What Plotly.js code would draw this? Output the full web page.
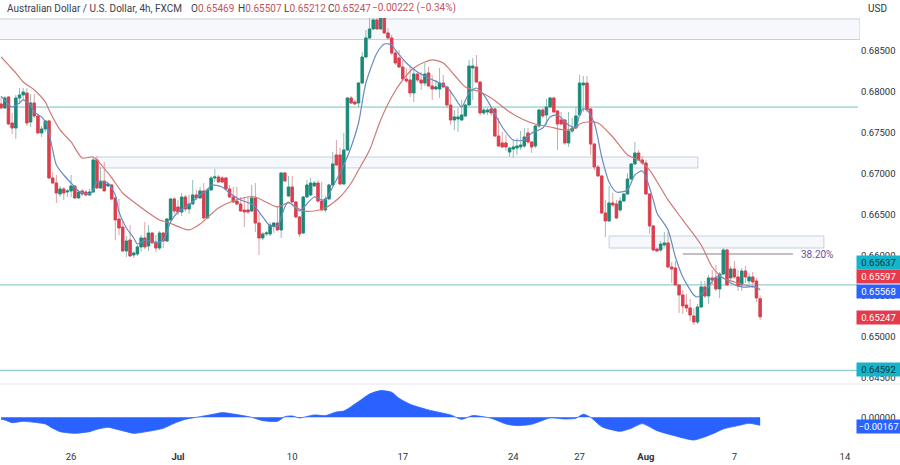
<!DOCTYPE html>
<html><head><meta charset="utf-8">
<script src="https://cdn.plot.ly/plotly-3.0.1.min.js"></script>
<style>html,body{margin:0;padding:0;background:#fff}#c{width:900px;height:465px}</style>
</head><body><div id="c"></div>
<script>
// Prices are in units of 0.00001
const open = [67850,67801,67935,67617,67556,67923,67960,67984,67629,67862,
67703,67495,67544,67642,66945,66883,66749,66810,66773,66786,
66847,66700,66786,66773,66737,66773,67165,66822,66908,66847,
66859,66700,66443,66345,66052,66186,66003,66015,66101,66211,
66113,66272,66162,66088,66272,66174,66431,66688,66590,66529,
66712,66565,66627,66737,66700,66786,66455,66798,66945,66957,
66945,66945,66810,66712,66663,66627,66553,66553,66541,66700,
66394,66211,66260,66260,66358,66394,66309,67006,66724,66835,
66651,66468,66272,66712,66737,66847,66883,66663,66553,66688,
66859,67226,67226,66871,67287,67923,67874,67862,68106,68424,
68657,68767,68877,68767,68901,68718,68657,68473,68412,68302,
68155,68143,67984,68216,68143,68106,68229,68070,68033,68033,
68106,68058,67837,67654,67666,67654,67703,67837,68290,68302,
68118,67740,67752,67789,67789,67458,67373,67373,67262,67299,
67311,67324,67336,67495,67385,67336,67581,67776,67715,67813,
67923,67764,67654,67654,67373,67519,67556,67715,68082,68106,
67789,67360,67079,66969,66517,66419,66639,66627,66553,66663,
66749,66932,67116,67250,67165,67128,66749,66358,66076,66064,
66125,66150,65856,65844,65636,65514,65391,65355,65257,65183,
65367,65612,65501,65722,65722,65587,65770,66064,65722,65832,
65734,65636,65807,65685,65734,65685,65469];
const high = [67935,67947,67947,67740,67960,68045,68045,68045,67972,67972,
67727,67581,67654,67654,67018,66981,66847,66835,66810,66981,
66847,66798,66810,66798,66810,67201,67214,67079,67140,66883,
66871,66712,66688,66431,66235,66370,66052,66125,66247,66406,
66370,66284,66247,66296,66284,66455,66700,66712,66676,66761,
66737,66737,66920,66798,66835,66883,66822,66969,67055,66981,
66969,66957,66859,66835,66835,66712,66712,66700,66859,66883,
66504,66284,66296,66406,66406,66590,67018,67018,66969,66969,
66663,66480,66724,66920,66945,66908,66920,66896,66724,66871,
67262,67409,67311,67495,67935,67947,67899,68118,68486,68755,
68914,68914,68901,68938,68914,68779,68694,68510,68510,68388,
68290,68314,68290,68229,68241,68351,68302,68204,68143,68290,
68204,68070,68021,67776,67801,67899,67850,68388,68412,68449,
68131,67801,67801,67801,67801,67678,67507,67471,67324,67409,
67434,67519,67556,67556,67397,67593,67789,67801,67911,67935,
67935,67776,67752,67666,67752,67678,67813,68204,68192,68192,
67801,67373,67104,66981,66676,66847,66761,66676,66712,66761,
67006,67128,67385,67287,67214,67165,66761,66370,66088,66174,
66284,66284,65917,65929,65648,65575,65526,65465,65355,65404,
65685,65685,65758,65819,65881,65795,66088,66076,65868,65929,
65819,65844,65868,65783,65795,65722,65507];
const low = [67789,67789,67593,67483,67422,67850,67899,67581,67568,67678,
67483,67446,67507,66932,66871,66639,66712,66676,66712,66712,
66688,66688,66724,66724,66724,66761,66810,66810,66786,66835,
66676,66186,66247,66040,65978,65978,65966,65991,66040,66076,
66052,66137,66040,66064,66088,66162,66419,66504,66492,66480,
66529,66504,66614,66676,66688,66443,66443,66786,66896,66883,
66883,66798,66700,66639,66614,66529,66345,66504,66529,66284,
66003,66186,66235,66235,66272,66296,66211,66896,66712,66639,
66455,66223,66260,66700,66724,66835,66639,66541,66529,66676,
66847,67091,66859,66859,67275,67850,67837,67801,68094,68412,
68645,68755,68755,68755,68706,68632,68449,68327,68290,68131,
68106,67935,67874,68118,68021,68070,68058,67899,68021,67923,
68045,67801,67593,67532,67507,67642,67691,67825,67899,68106,
67703,67715,67715,67703,67446,67324,67311,67275,67201,67189,
67226,67287,67311,67360,67250,67311,67556,67678,67593,67801,
67740,67287,67593,67348,67324,67495,67544,67703,67752,67752,
67226,67042,66957,66504,66223,66406,66590,66443,66529,66651,
66737,66920,67104,67152,67104,66737,66260,66052,66040,66040,
66101,65844,65660,65624,65294,65281,65306,65196,65147,65159,
65355,65477,65404,65636,65563,65477,65758,65624,65697,65709,
65563,65563,65660,65648,65599,65428,65212];
const close = [67801,67923,67605,67556,67923,67960,67996,67617,67862,67703,
67495,67544,67642,66945,66883,66761,66810,66761,66786,66847,
66700,66773,66749,66737,66773,67165,66822,66908,66786,66871,
66688,66431,66333,66052,66174,65991,66027,66101,66211,66101,
66272,66150,66088,66272,66174,66443,66688,66541,66529,66712,
66565,66627,66737,66700,66786,66455,66798,66945,66957,66896,
66896,66810,66712,66651,66627,66541,66529,66529,66700,66394,
66211,66260,66272,66370,66394,66309,67006,66908,66835,66651,
66468,66260,66712,66859,66883,66883,66663,66553,66688,66859,
67116,67104,66871,67287,67923,67862,67850,68106,68424,68657,
68767,68877,68767,68901,68718,68657,68473,68351,68302,68155,
68131,67984,68216,68143,68106,68216,68070,68033,68058,68106,
68058,67837,67654,67691,67691,67715,67837,68314,68314,68118,
67740,67776,67776,67740,67458,67336,67324,67324,67311,67324,
67336,67348,67446,67385,67324,67581,67776,67703,67813,67923,
67752,67605,67605,67373,67519,67556,67703,68106,68106,67776,
67360,67079,66969,66517,66419,66639,66614,66455,66663,66749,
66932,67116,67250,67165,67128,66749,66358,66064,66052,66137,
66150,65856,65832,65636,65514,65379,65355,65269,65183,65367,
65612,65501,65722,65697,65587,65770,66064,65636,65832,65734,
65624,65807,65734,65734,65673,65477,65247];

// Fast and slow moving averages read at candle positions
const fastIdx = [0,3,5,6,8,9,11,12,13,14,15,17,19,20,21,24,25,26,28,29,31,32,34,36,37,39,42,44,46,48,51,54,56,57,60,62,65,68,69,71,73,75,77,78,81,82,85,87,88,90,93,95,97,99,102,104,106,107,110,113,116,119,121,123,125,127,129,131,133,136,139,142,144,147,149,151,154,156,157,158,159,161,163,165,167,170,172,174,175,177,178,181,183,185,188,189,192,194,196,198,201,205,206];
const fastVal = [67947,67813,67862,67899,67837,67752,67691,67629,67495,67287,67104,66981,66883,66835,66786,66749,66798,66896,66896,66883,66737,66529,66333,66211,66137,66186,66150,66186,66406,66529,66614,66737,66798,66859,66835,66761,66676,66627,66590,66468,66358,66358,66590,66651,66541,66578,66712,66676,66676,66835,67104,67324,67617,68106,68473,68583,68571,68510,68351,68241,68168,68106,68058,67935,67813,67984,68045,67960,67813,67568,67409,67409,67495,67556,67691,67715,67593,67568,67715,67789,67776,67617,67201,66896,66773,66798,66981,67030,66957,66676,66517,66309,65978,65734,65514,65489,65612,65734,65722,65660,65612,65612,65575];
const slowIdx = [0,2,4,6,9,12,13,16,19,22,25,29,31,33,36,43,45,49,51,54,59,63,67,69,75,78,82,85,88,92,95,97,100,103,106,109,112,115,117,120,123,126,130,133,138,142,145,149,153,156,157,159,162,166,170,173,176,181,185,190,193,196,199,203,205];
const slowVal = [68424,68327,68229,68118,68021,67874,67776,67532,67385,67189,67201,67006,66883,66761,66651,66431,66406,66333,66309,66382,66578,66663,66712,66712,66590,66639,66541,66541,66578,66712,66883,67042,67287,67654,67935,68143,68290,68363,68388,68351,68204,68058,67996,67923,67752,67654,67605,67568,67532,67556,67605,67629,67617,67446,67226,67165,67042,66676,66431,66125,65856,65722,65673,65624,65612];

// Lower pane oscillator
const oscIdx = [0,1,3,6,9,12,14,16,20,24,26,29,31,34,36,40,44,47,50,54,58,60,64,68,71,75,77,79,81,85,88,91,93,95,97,100,103,106,108,111,116,122,125,128,133,137,140,144,149,153,156,158,160,163,168,171,174,178,183,188,193,196,200,203,206];
const oscVal = [-0.00042,-0.00056,-0.00112,-0.00084,-0.00105,-0.00139,-0.0023,-0.003,-0.00335,-0.003,-0.00251,-0.00209,-0.00244,-0.003,-0.00335,-0.00293,-0.0023,-0.00125,-0.00042,0.00014,0.0007,0.00098,0.00056,0,-0.0007,-0.00084,0.00014,0.00028,-0.00014,0.00049,0.00035,0.00112,0.00132,0.00223,0.00328,0.00488,0.00558,0.00523,0.00397,0.00272,0.00153,0.00049,-0.00042,0.00035,-0.00021,-0.00139,-0.00174,-0.00146,-0.00014,-0.00035,-0.00021,0.00063,0,-0.00195,-0.00293,-0.0023,-0.00132,-0.00279,-0.0039,-0.00474,-0.00349,-0.00244,-0.00174,-0.00125,-0.00167];

const priceTicks = [0.685,0.68,0.675,0.67,0.665,0.66,0.655,0.65,0.645];
const xTickIdx = [19,48,79,109,139,157,175,199,229];
const xTickText = ['26','<b>Jul</b>','10','17','24','27','<b>Aug</b>','7','14'];
const levels = [0.67812,0.65637,0.64592];
const zones = [[-1,233.1,0.68889,0.68638],[25.75,189.1,0.67201,0.67067],[165,223.3,0.66235,0.66088]];
const fib = {i0:185,i1:214.9,price:0.66015,label:'38.20%'};
const headerName = 'Australian Dollar / U.S. Dollar, 4h, FXCM';
const ohlcLabels = [['O','0.65469',189],['H','0.65507',236],['L','0.65212',282],['C','0.65247',326]];
const changeText = '−0.00222 (−0.34%)';
const badges = [['0.65637',262,'#14b5cb','#13333a'],['0.65597',276,'#e63a4c','#fff'],['0.65568',291,'#2962ff','#fff'],['0.65247',317,'#e63a4c','#fff'],['0.64592',369,'#14b5cb','#13333a'],['−0.00167',426,'#2962ff','#fff']];

const P = a => a.map(v => v/1e5);
const idx = open.map((_,i)=>i);
const GREEN='#1a8a78', RED='#dc3e4e', GW='#8fc0b6', RW='#dba3a8', FONT='Roboto, "Open Sans", sans-serif';
const px = x => x/900, py = y => 1-y/465;

const traces = [
 {type:'candlestick',x:idx,open:P(open),high:P(high),low:P(low),close:P(close),yaxis:'y',whiskerwidth:0,
  increasing:{line:{color:GW,width:1},fillcolor:GREEN},decreasing:{line:{color:RW,width:1},fillcolor:RED},hoverinfo:'skip'},
 {type:'candlestick',x:idx,open:P(open),close:P(close),
  high:P(open.map((o,i)=>Math.max(o,close[i]))),low:P(open.map((o,i)=>Math.min(o,close[i]))),yaxis:'y',whiskerwidth:0,
  increasing:{line:{color:GREEN,width:0.8},fillcolor:GREEN},decreasing:{line:{color:RED,width:0.8},fillcolor:RED},hoverinfo:'skip'},
 {type:'scatter',mode:'lines',x:slowIdx,y:slowVal.map(v=>v/1e5),yaxis:'y',line:{color:'#cc7a78',width:1.2,shape:'spline',smoothing:0.7},hoverinfo:'skip'},
 {type:'scatter',mode:'lines',x:fastIdx,y:fastVal.map(v=>v/1e5),yaxis:'y',line:{color:'#6a8bc2',width:1.2,shape:'spline',smoothing:0.7},hoverinfo:'skip'},
 {type:'scatter',mode:'lines',x:oscIdx,y:oscVal,yaxis:'y2',fill:'tozeroy',fillcolor:'#2962ff',line:{color:'#2962ff',width:0.8,shape:'spline',smoothing:0.6},hoverinfo:'skip'}
];

const shapes = [];
zones.forEach(z=>shapes.push({type:'rect',layer:'below',xref:'x',yref:'y',x0:z[0],x1:z[1],y0:z[2],y1:z[3],fillcolor:'#f6f8fc',line:{color:'#c3d0e0',width:1}}));
levels.forEach(l=>shapes.push({type:'line',layer:'below',xref:'paper',yref:'y',x0:0,x1:px(858),y0:l,y1:l,line:{color:'#74c2c2',width:1}}));
shapes.push({type:'line',layer:'below',xref:'x',yref:'y',x0:fib.i0,x1:fib.i1,y0:fib.price,y1:fib.price,line:{color:'#aea8b0',width:1.4}});
shapes.push({type:'line',layer:'below',xref:'paper',yref:'paper',x0:0,x1:1,y0:py(384),y1:py(384),line:{color:'#e3e6ec',width:1}});

const ann = [];
const label=(t,x,y,c,extra)=>ann.push(Object.assign({xref:'paper',yref:'paper',x:px(x),y:py(y),text:t,showarrow:false,xanchor:'left',yanchor:'middle',font:{family:FONT,size:10,color:c}},extra||{}));
label(headerName,5,8,'#3a3e4a');
ohlcLabels.forEach(o=>label(o[0]+'<span style="color:#c4525e">'+o[1]+'</span>',o[2],8,'#3a3e4a'));
label(changeText,370,8,'#c4525e');
label('USD',866,8,'#2e3240');
label(fib.label,799,254,'#6b4f9c');
badges.forEach(b=>ann.push({xref:'paper',yref:'paper',x:px(856),y:py(b[1]),text:b[0],showarrow:false,xanchor:'left',yanchor:'middle',
  width:43,height:13,bgcolor:b[2],borderpad:0,align:'center',font:{family:FONT,size:9.5,color:b[3]}}));

const layout = {
 width:900,height:465,margin:{l:0,r:0,t:0,b:0},paper_bgcolor:'#fff',plot_bgcolor:'#fff',showlegend:false,boxgap:0.06,
 xaxis:{domain:[0,px(860)],range:[-0.3,233.1],anchor:'y2',tickmode:'array',tickvals:xTickIdx,ticktext:xTickText,showgrid:false,zeroline:false,showline:false,ticks:'',ticklen:0,ticklabelstandoff:4,
        tickfont:{family:FONT,size:9.5,color:'#2e3240'},rangeslider:{visible:false},tickangle:0},
 yaxis:{domain:[py(384),py(18)],range:[0.64425,0.68901],side:'right',anchor:'x',tickmode:'array',tickvals:priceTicks,tickformat:'.5f',showgrid:false,zeroline:false,showline:false,ticks:'',
        tickfont:{family:FONT,size:9.5,color:'#2e3240'}},
 yaxis2:{domain:[py(445),py(385)],range:[-0.00579,0.00675],side:'right',anchor:'x',tickmode:'array',tickvals:[0],tickformat:'.5f',showgrid:false,zeroline:false,showline:false,ticks:'',
        tickfont:{family:FONT,size:9.5,color:'#2e3240'}},
 shapes:shapes,annotations:ann,hovermode:false
};
Plotly.newPlot('c',traces,layout,{displayModeBar:false,staticPlot:true});
</script></body></html>
